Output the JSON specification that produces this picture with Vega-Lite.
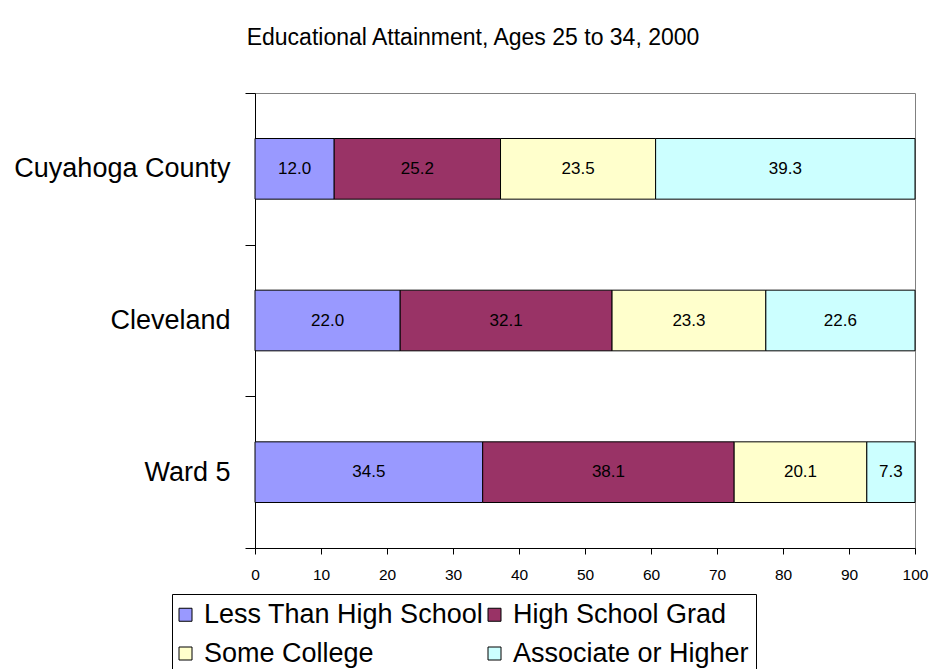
{
  "$schema": "https://vega.github.io/schema/vega-lite/v6.json",
  "autosize": {"type": "none"},
  "width": 660,
  "height": 455,
  "padding": {"left": 255, "top": 93, "right": 18, "bottom": 121},
  "background": "white",
  "config": {
    "font": "Liberation Sans",
    "view": {"stroke": "#808080", "strokeWidth": 1}
  },
  "title": {
    "text": "Educational Attainment, Ages 25 to 34, 2000",
    "font": "Liberation Sans",
    "fontSize": 23,
    "fontWeight": "normal",
    "color": "black",
    "anchor": "middle",
    "baseline": "alphabetic",
    "offset": 11,
    "dx": -112
  },
  "data": {
    "values": [
      {"place": "Cuyahoga County", "level": "Less Than High School", "ord": 1, "pct": 12.0},
      {"place": "Cuyahoga County", "level": "High School Grad", "ord": 2, "pct": 25.2},
      {"place": "Cuyahoga County", "level": "Some College", "ord": 3, "pct": 23.5},
      {"place": "Cuyahoga County", "level": "Associate or Higher", "ord": 4, "pct": 39.3},
      {"place": "Cleveland", "level": "Less Than High School", "ord": 1, "pct": 22.0},
      {"place": "Cleveland", "level": "High School Grad", "ord": 2, "pct": 32.1},
      {"place": "Cleveland", "level": "Some College", "ord": 3, "pct": 23.3},
      {"place": "Cleveland", "level": "Associate or Higher", "ord": 4, "pct": 22.6},
      {"place": "Ward 5", "level": "Less Than High School", "ord": 1, "pct": 34.5},
      {"place": "Ward 5", "level": "High School Grad", "ord": 2, "pct": 38.1},
      {"place": "Ward 5", "level": "Some College", "ord": 3, "pct": 20.1},
      {"place": "Ward 5", "level": "Associate or Higher", "ord": 4, "pct": 7.3}
    ]
  },
  "encoding": {
    "y": {
      "field": "place",
      "type": "nominal",
      "sort": ["Cuyahoga County", "Cleveland", "Ward 5"],
      "scale": {"paddingInner": 0, "paddingOuter": 0},
      "axis": {
        "title": null,
        "tickBand": "extent",
        "tickSize": 10,
        "tickColor": "black",
        "domainColor": "black",
        "labelFontSize": 27,
        "labelColor": "black",
        "labelPadding": 15,
        "labelFont": "Liberation Sans",
        "labelLimit": 400
      }
    },
    "x": {
      "field": "pct",
      "type": "quantitative",
      "stack": "zero",
      "scale": {"domain": [0, 100], "nice": false},
      "axis": {
        "title": null,
        "values": [0, 10, 20, 30, 40, 50, 60, 70, 80, 90, 100],
        "grid": false,
        "tickSize": 6,
        "tickColor": "black",
        "domainColor": "black",
        "labelFontSize": 15.5,
        "labelColor": "black",
        "labelPadding": 13,
        "labelFlush": false,
        "labelOverlap": false,
        "labelFont": "Liberation Sans"
      }
    },
    "order": {"field": "ord", "type": "quantitative"}
  },
  "layer": [
    {
      "mark": {"type": "bar", "height": {"band": 0.4}, "stroke": "black", "strokeWidth": 1},
      "encoding": {
        "color": {
          "field": "level",
          "type": "nominal",
          "scale": {
            "domain": ["Less Than High School", "High School Grad", "Some College", "Associate or Higher"],
            "range": ["#9999FF", "#993366", "#FFFFCC", "#CCFFFF"]
          },
          "legend": {
            "title": null,
            "orient": "none",
            "legendX": -83,
            "legendY": 501,
            "columns": 2,
            "direction": "horizontal",
            "gridAlign": "all",
            "symbolType": "square",
            "symbolSize": 169,
            "symbolStrokeColor": "black",
            "symbolStrokeWidth": 1,
            "symbolOffset": -7,
            "labelFontSize": 27,
            "labelFont": "Liberation Sans",
            "labelColor": "black",
            "labelLimit": 400,
            "labelOffset": 5,
            "columnPadding": 2,
            "rowPadding": 11,
            "padding": 7,
            "strokeColor": "black",
            "fillColor": "white"
          }
        }
      }
    },
    {
      "mark": {"type": "text", "fontSize": 17, "font": "Liberation Sans", "color": "black", "baseline": "middle", "align": "center"},
      "encoding": {
        "x": {"field": "pct", "type": "quantitative", "stack": "zero", "bandPosition": 0.5},
        "text": {"field": "pct", "type": "quantitative", "format": ".1f"}
      }
    }
  ]
}
